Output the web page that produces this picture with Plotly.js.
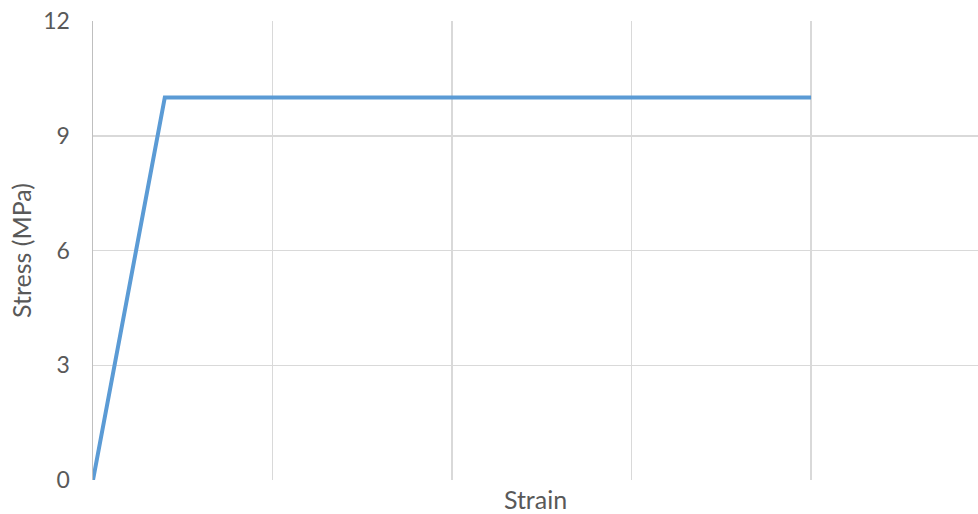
<!DOCTYPE html>
<html>
<head>
<meta charset="utf-8">
<script src="https://cdn.plot.ly/plotly-3.0.1.min.js"></script>
<style>html,body{margin:0;padding:0;background:#fff;}#chart{width:978px;height:514px;}</style>
</head>
<body>
<div id="chart"></div>
<script>
const strain = [0, 0.08, 0.8];
const stress = [0, 10, 10];
const yTicks = [0, 3, 6, 9, 12];
const xGrid = [0, 0.2, 0.4, 0.6, 0.8];

const trace = {
  x: strain, y: stress, type: 'scatter', mode: 'lines',
  line: {color: '#5b9bd5', width: 4}, hoverinfo: 'skip'
};
const layout = {
  width: 978, height: 514,
  margin: {l: 93, r: 0, t: 21, b: 34},
  paper_bgcolor: '#ffffff', plot_bgcolor: '#ffffff',
  showlegend: false,
  font: {family: 'Lato, sans-serif', color: '#595959', size: 23},
  xaxis: {
    range: [0, 0.986], tickvals: xGrid, showticklabels: false,
    showgrid: true, gridcolor: '#d9d9d9', gridwidth: 1.5,
    zeroline: false, showline: false, ticks: '',
    title: {text: 'Strain', standoff: 11, font: {size: 25, color: '#595959'}}
  },
  yaxis: {
    range: [0, 12], tickvals: yTicks, ticktext: yTicks.map(String),
    showgrid: true, gridcolor: '#d9d9d9', gridwidth: 1.5,
    zeroline: false, showline: true, linecolor: '#bfbfbf', linewidth: 1.5,
    ticks: 'outside', ticklen: 17, tickcolor: 'rgba(0,0,0,0)',
    tickfont: {size: 23, color: '#595959'},
    title: {text: 'Stress (MPa)', standoff: 4, font: {size: 25, color: '#595959'}}
  }
};
Plotly.newPlot('chart', [trace], layout, {displayModeBar: false, staticPlot: true});
</script>
</body>
</html>
